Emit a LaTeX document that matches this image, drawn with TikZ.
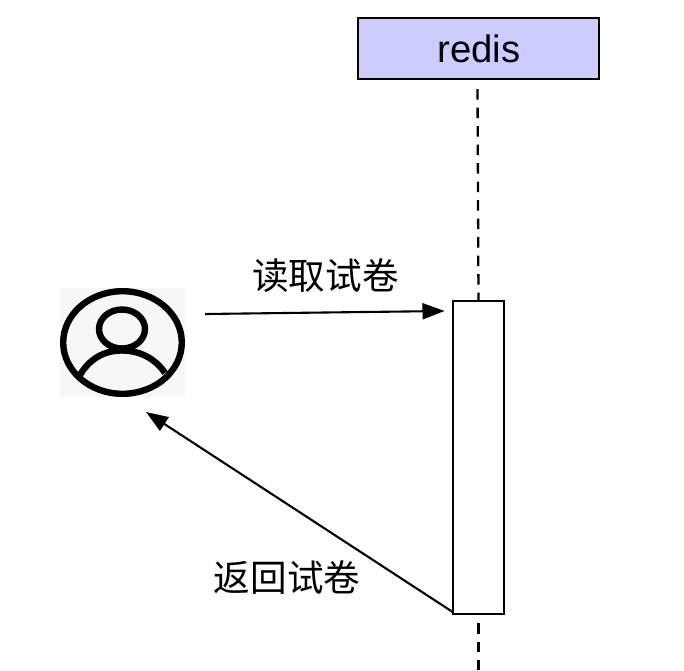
\documentclass[tikz,border=0pt]{standalone}
\usepackage{fontspec}
\setmainfont{Liberation Sans}
\newfontfamily\cjk{Noto Sans CJK SC}
\usetikzlibrary{arrows.meta}
\definecolor{redisfill}{HTML}{CCCCFF}
\definecolor{avatarbg}{HTML}{F7F7F7}
\tikzset{
  px/.style={x=1pt,y=-1pt},
  boxline/.style={draw=black,line width=2.3pt,inner sep=0pt},
  headerbox/.style={boxline,fill=redisfill,minimum width=241pt,minimum height=61pt,font=\fontsize{38.3}{38}\selectfont},
  activation/.style={boxline,fill=white,minimum width=51pt,minimum height=313pt},
  lifeline/.style={draw=black,line width=2.3pt,dash pattern=on 10.5pt off 8pt},
  message/.style={draw=black,line width=2.1pt,-{Triangle[length=22pt,width=16pt]}},
  msglabel/.style={font=\cjk\fontsize{36.6}{36}\selectfont,inner sep=0pt},
  avatarline/.style={draw=black,line width=6.4pt},
  avatarbox/.style={fill=avatarbg,minimum width=125pt,minimum height=109pt,inner sep=0pt}
}
\begin{document}
\begin{tikzpicture}[px]
\useasboundingbox (0,0) rectangle (684,670);
% avatar
\node[avatarbox] (user) at (122.5,342.5) {};
\draw[avatarline] (user.center) ellipse [x radius=59.3pt,y radius=51.3pt];
\draw[avatarline] (122,329) ellipse [x radius=23pt,y radius=19.5pt];
\draw[avatarline] (80,375) .. controls (90,358) and (105,350.5) .. (122,350.5) .. controls (139,350.5) and (155,358) .. (165,373);
% redis
\node[headerbox] (redis) at (478.8,48.5) {redis};
\node[activation] (act) at (478.7,457.5) {};
\coordinate (lifeA) at (477.5,89);
\coordinate (lifeB) at (478.5,300);
\coordinate (lifeC) at (478.5,623);
\coordinate (lifeD) at (478.5,670);
\draw[lifeline] (lifeA) -- (lifeB);
\draw[lifeline] (lifeC) -- (lifeD);
% messages
\coordinate (m1s) at (205,314);
\coordinate (m1e) at (444.5,311);
\coordinate (m2s) at (453.5,612.5);
\coordinate (m2e) at (146,412);
\draw[message] (m1s) -- (m1e);
\draw[message] (m2s) -- (m2e);
\node[msglabel] (l1) at (325.5,276) {读取试卷};
\node[msglabel] (l2) at (287,578) {返回试卷};
\end{tikzpicture}
\end{document}
